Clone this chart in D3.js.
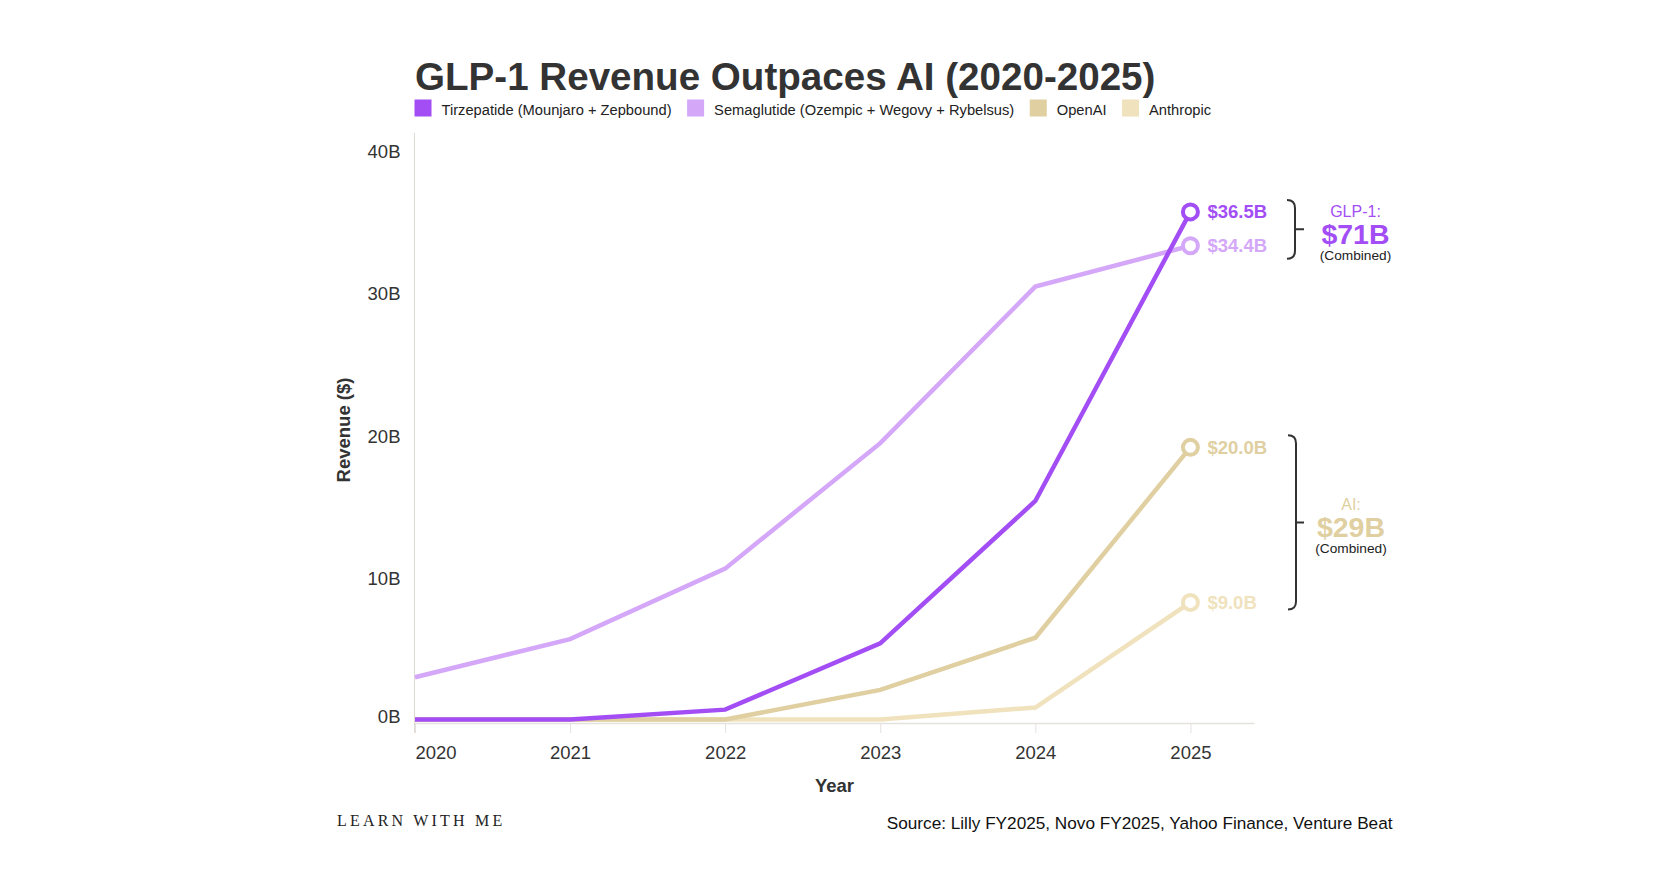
<!DOCTYPE html>
<html>
<head>
<meta charset="utf-8">
<script src="https://cdn.jsdelivr.net/npm/d3@7"></script>
<style>
  html, body { margin: 0; padding: 0; background: #fff; }
  svg { display: block; font-family: "Liberation Sans", Arial, Helvetica, sans-serif; }
</style>
</head>
<body>
<svg id="chart" width="1672" height="884"></svg>
<script>
// ---- data ----
const years = [2020, 2021, 2022, 2023, 2024, 2025];
const tirzepatide = [0, 0, 0.7, 5.4, 15.5, 36.0];
const semaglutide = [3.0, 5.7, 10.7, 19.6, 30.7, 33.6];
const openai = [0, 0, 0, 2.1, 5.8, 19.3];
const anthropic = [0, 0, 0, 0, 0.85, 8.3];
const seriesNames = ["Tirzepatide (Mounjaro + Zepbound)", "Semaglutide (Ozempic + Wegovy + Rybelsus)", "OpenAI", "Anthropic"];
const endLabels = ["$36.5B", "$34.4B", "$20.0B", "$9.0B"];
const yTicks = [0, 10, 20, 30, 40];
const groupLabels = ["GLP-1:", "AI:"];
const groupTotals = ["$71B", "$29B"];
const titleText = "GLP-1 Revenue Outpaces AI (2020-2025)";
const sourceText = "Source: Lilly FY2025, Novo FY2025, Yahoo Finance, Venture Beat";
const brandText = "LEARN WITH ME";

const colors = ["#a34ef5", "#d4a7f8", "#e0cfa1", "#f0e2bd"];
const seriesValues = [tirzepatide, semaglutide, openai, anthropic];

const svg = d3.select("#chart");
const SANS = "'Liberation Sans', Arial, Helvetica, sans-serif";

// ---- scales ----
const x = d3.scaleLinear().domain([2020, 2025.41]).range([415, 1254]);
const y = d3.scaleLinear().domain([0, 40]).range([719.5, 155.5]);
// tick-label placement scale (labels sit slightly apart from the data scale in the original)
const yLabel = d3.scaleLinear().domain([0, 40]).range([721.5, 151.4]);

// ---- title ----
svg.append("text").attr("x", 415).attr("y", 90)
  .style("font-size", "38.6px").style("font-weight", "bold").attr("fill", "#333")
  .text(titleText);

// ---- legend ----
const legend = svg.append("g");
let lx = 414.5;
seriesNames.forEach((name, i) => {
  legend.append("rect").attr("x", lx).attr("y", 99.5).attr("width", 17).attr("height", 17)
    .attr("fill", colors[i]);
  const t = legend.append("text").attr("x", lx + 27).attr("y", 114.5)
    .style("font-size", "14.7px").attr("fill", "#222").text(name);
  lx += 27 + t.node().getComputedTextLength() + 15.5;
});

// ---- axes ----
svg.append("line").attr("x1", 414.5).attr("x2", 414.5).attr("y1", 133).attr("y2", 733)
  .attr("stroke", "#dedad6").attr("stroke-width", 1);

const yAxis = svg.append("g").attr("transform", "translate(414.5,0)")
  .call(d3.axisLeft(yLabel).tickValues(yTicks).tickSize(0).tickPadding(14).tickFormat(d => d + "B"));
yAxis.select(".domain").remove();
yAxis.selectAll("text").style("font-size", "18.5px").style("font-family", SANS).attr("fill", "#333")
  .attr("dy", d => d === 0 ? "0.08em" : "0.32em");

const xAxisY = y(0) + 3.5;
const xAxis = svg.append("g").attr("transform", `translate(0,${xAxisY})`)
  .call(d3.axisBottom(x).tickValues(years).tickSize(10).tickSizeOuter(0).tickPadding(0).tickFormat(d3.format("d")));
xAxis.select(".domain").attr("stroke", "#e4e1de").attr("stroke-width", 1.5);
xAxis.selectAll(".tick line").attr("stroke", "#e4e1de").attr("stroke-width", 1);
xAxis.selectAll("text").style("font-size", "18.5px").style("font-family", SANS).attr("fill", "#333")
  .attr("y", 35.5).attr("dy", 0)
  .attr("text-anchor", (d, i) => i === 0 ? "start" : "middle");

// axis titles
svg.append("text").attr("transform", `translate(350,430) rotate(-90)`)
  .attr("text-anchor", "middle").style("font-size", "18.5px").style("font-weight", "bold").attr("fill", "#333")
  .text("Revenue ($)");
svg.append("text").attr("x", (x.range()[0] + x.range()[1]) / 2).attr("y", 791.5)
  .attr("text-anchor", "middle").style("font-size", "18.5px").style("font-weight", "bold").attr("fill", "#333")
  .text("Year");

// ---- lines ----
const line = d3.line().x((d, i) => x(years[i])).y(d => y(d));
const drawOrder = [3, 2, 1, 0];
drawOrder.forEach(i => {
  svg.append("path").datum(seriesValues[i])
    .attr("d", line).attr("fill", "none")
    .attr("stroke", colors[i]).attr("stroke-width", 4.5);
});

// ---- end markers and labels ----
drawOrder.forEach(i => {
  const vals = seriesValues[i];
  const last = vals[vals.length - 1];
  svg.append("circle").attr("cx", x(years[years.length - 1])).attr("cy", y(last))
    .attr("r", 7.5).attr("fill", "#fff").attr("stroke", colors[i]).attr("stroke-width", 4);
});
seriesValues.forEach((vals, i) => {
  const last = vals[vals.length - 1];
  svg.append("text").attr("x", x(years[years.length - 1]) + 17).attr("y", y(last))
    .attr("dy", "0.35em").style("font-size", "18.5px").style("font-weight", "bold")
    .attr("fill", colors[i]).text(endLabels[i]);
});

// ---- group brackets ----
const groups = [
  { members: [0, 1], color: colors[0], cx: 1355.5, bx: 1295, padTop: 12, padBot: 13 },
  { members: [2, 3], color: colors[2], cx: 1351, bx: 1296, padTop: 12, padBot: 7 }
];
groups.forEach((g, gi) => {
  const ys = g.members.map(m => y(seriesValues[m][seriesValues[m].length - 1]));
  const top = d3.min(ys) - g.padTop;
  const bot = d3.max(ys) + g.padBot;
  const mid = (top + bot) / 2;
  const bx = g.bx, r = 8;
  const p = d3.path();
  p.moveTo(bx - r, top);
  p.quadraticCurveTo(bx, top, bx, top + r);
  p.lineTo(bx, bot - r);
  p.quadraticCurveTo(bx, bot, bx - r, bot);
  p.moveTo(bx, mid);
  p.lineTo(1304, mid);
  svg.append("path").attr("d", p.toString()).attr("fill", "none")
    .attr("stroke", "#333").attr("stroke-width", 2);

  svg.append("text").attr("x", g.cx).attr("y", mid - 12.5).attr("text-anchor", "middle")
    .style("font-size", "16px").attr("fill", g.color).text(groupLabels[gi]);
  svg.append("text").attr("x", g.cx).attr("y", mid + 14.5).attr("text-anchor", "middle")
    .style("font-size", "28.5px").style("font-weight", "bold").attr("fill", g.color).text(groupTotals[gi]);
  svg.append("text").attr("x", g.cx).attr("y", mid + 30.5).attr("text-anchor", "middle")
    .style("font-size", "13.7px").attr("fill", "#222").text("(Combined)");
});

// ---- footer ----
svg.append("text").attr("x", 337).attr("y", 826)
  .style("font-family", "'Liberation Serif', 'Times New Roman', serif")
  .style("font-size", "16px").style("letter-spacing", "3.2px").attr("fill", "#222")
  .text(brandText);
svg.append("text").attr("x", 1392.5).attr("y", 829).attr("text-anchor", "end")
  .style("font-size", "17.2px").attr("fill", "#111").text(sourceText);
</script>
</body>
</html>
